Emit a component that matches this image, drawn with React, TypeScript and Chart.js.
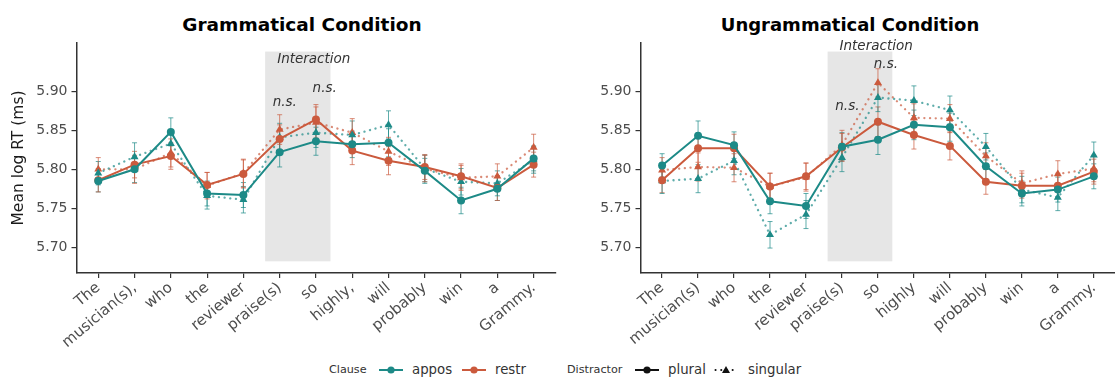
import { useEffect, useRef } from "react";
import { Chart, registerables } from "chart.js";

Chart.register(...registerables);

const FONT = "'DejaVu Sans', Verdana, sans-serif";
const TEAL = "#1d8a87";
const RED = "#cb5a3d";
const TEAL_DOT = "rgba(29,138,135,0.7)";
const RED_DOT = "rgba(203,90,61,0.7)";

// ---------- categories ----------
const gramWords = ["The", "musician(s),", "who", "the", "reviewer", "praise(s)", "so", "highly,", "will", "probably", "win", "a", "Grammy."];
const ungramWords = ["The", "musician(s)", "who", "the", "reviewer", "praise(s)", "so", "highly", "will", "probably", "win", "a", "Grammy."];
const yTickValues = [5.7, 5.75, 5.8, 5.85, 5.9];

// ---------- Grammatical condition (mean log RT) ----------
const gramApposPlural = [5.785, 5.800, 5.848, 5.769, 5.767, 5.822, 5.836, 5.832, 5.834, 5.798, 5.760, 5.775, 5.814];
const gramApposSingular = [5.795, 5.816, 5.833, 5.766, 5.761, 5.841, 5.847, 5.844, 5.857, 5.801, 5.784, 5.782, 5.812];
const gramRestrPlural = [5.786, 5.806, 5.817, 5.780, 5.794, 5.839, 5.864, 5.824, 5.811, 5.803, 5.791, 5.776, 5.806];
const gramRestrSingular = [5.800, 5.800, 5.821, 5.779, 5.795, 5.851, 5.860, 5.847, 5.823, 5.801, 5.789, 5.791, 5.828];

const gramApposPluralSE = [0.014, 0.017, 0.018, 0.016, 0.016, 0.019, 0.018, 0.017, 0.018, 0.016, 0.017, 0.015, 0.016];
const gramApposSingularSE = [0.015, 0.018, 0.017, 0.017, 0.017, 0.018, 0.019, 0.018, 0.018, 0.017, 0.017, 0.016, 0.017];
const gramRestrPluralSE = [0.015, 0.017, 0.017, 0.016, 0.018, 0.018, 0.019, 0.018, 0.018, 0.016, 0.016, 0.016, 0.016];
const gramRestrSingularSE = [0.015, 0.018, 0.018, 0.017, 0.018, 0.019, 0.020, 0.018, 0.018, 0.017, 0.016, 0.016, 0.017];

// ---------- Ungrammatical condition (mean log RT) ----------
const ungramApposPlural = [5.805, 5.843, 5.831, 5.759, 5.753, 5.829, 5.838, 5.857, 5.854, 5.804, 5.769, 5.774, 5.791];
const ungramApposSingular = [5.785, 5.788, 5.811, 5.716, 5.742, 5.815, 5.892, 5.888, 5.876, 5.829, 5.774, 5.764, 5.818];
const ungramRestrPlural = [5.786, 5.827, 5.827, 5.778, 5.791, 5.828, 5.861, 5.844, 5.830, 5.784, 5.779, 5.779, 5.797];
const ungramRestrSingular = [5.799, 5.803, 5.802, 5.778, 5.790, 5.831, 5.911, 5.866, 5.865, 5.817, 5.782, 5.794, 5.801];

const ungramApposPluralSE = [0.015, 0.019, 0.017, 0.016, 0.016, 0.018, 0.019, 0.019, 0.018, 0.017, 0.016, 0.016, 0.016];
const ungramApposSingularSE = [0.016, 0.018, 0.018, 0.017, 0.018, 0.018, 0.018, 0.019, 0.018, 0.017, 0.017, 0.017, 0.017];
const ungramRestrPluralSE = [0.016, 0.018, 0.018, 0.017, 0.017, 0.018, 0.019, 0.018, 0.018, 0.016, 0.016, 0.016, 0.016];
const ungramRestrSingularSE = [0.016, 0.018, 0.018, 0.017, 0.018, 0.019, 0.018, 0.018, 0.018, 0.017, 0.016, 0.017, 0.017];

// ---------- shaded "Interaction" region & annotations (data coords) ----------
const shadeX = [4.6, 6.4];
const shadeY = [5.682, 5.951];
const gramNotes = [
  { x: 5.94, y: 5.941, text: "Interaction" },
  { x: 5.14, y: 5.886, text: "n.s." },
  { x: 6.24, y: 5.904, text: "n.s." },
];
const ungramNotes = [
  { x: 5.95, y: 5.957, text: "Interaction" },
  { x: 5.15, y: 5.881, text: "n.s." },
  { x: 6.22, y: 5.935, text: "n.s." },
];

const Y_MIN = 5.667;
const Y_MAX = 5.962;
const CANVAS_W = 560;
const CANVAS_H = 350;
const AREA_TOP = 43;
const AREA_BOTTOM = 273;

const shadePlugin = {
  id: "shade",
  beforeDatasetsDraw(chart: any) {
    const { ctx, scales } = chart;
    const x0 = scales.x.getPixelForValue(shadeX[0]);
    const x1 = scales.x.getPixelForValue(shadeX[1]);
    const y0 = scales.y.getPixelForValue(shadeY[1]);
    const y1 = scales.y.getPixelForValue(shadeY[0]);
    ctx.save();
    ctx.fillStyle = "#e6e6e6";
    ctx.fillRect(x0, y0, x1 - x0, y1 - y0);
    ctx.restore();
  },
};

const errorPlugin = {
  id: "errorBars",
  beforeDatasetsDraw(chart: any) {
    const { ctx, scales } = chart;
    chart.data.datasets.forEach((ds: any) => {
      ctx.save();
      ctx.strokeStyle = ds.errColor;
      ctx.lineWidth = 1;
      ds.data.forEach((pt: any, i: number) => {
        const e = ds.errors[i];
        const px = scales.x.getPixelForValue(pt.x);
        const top = scales.y.getPixelForValue(pt.y + e);
        const bot = scales.y.getPixelForValue(pt.y - e);
        ctx.beginPath();
        ctx.moveTo(px, top);
        ctx.lineTo(px, bot);
        ctx.moveTo(px - 2.5, top);
        ctx.lineTo(px + 2.5, top);
        ctx.moveTo(px - 2.5, bot);
        ctx.lineTo(px + 2.5, bot);
        ctx.stroke();
      });
      ctx.restore();
    });
  },
};

const notePlugin = {
  id: "notes",
  afterDatasetsDraw(chart: any) {
    const { ctx, scales } = chart;
    const notes = chart.options.plugins.notes.items;
    ctx.save();
    ctx.fillStyle = "#333333";
    ctx.font = `italic 13.5px ${FONT}`;
    ctx.textAlign = "center";
    ctx.textBaseline = "middle";
    notes.forEach((n: any) => {
      ctx.fillText(n.text, scales.x.getPixelForValue(n.x), scales.y.getPixelForValue(n.y));
    });
    ctx.restore();
  },
};

function makeSeries(values: number[], errors: number[], color: string, dotColor: string, singular: boolean) {
  return {
    data: values.map((v, i) => ({ x: i, y: v })),
    errors,
    errColor: dotColor,
    borderColor: singular ? dotColor : color,
    backgroundColor: color,
    pointBackgroundColor: color,
    pointBorderColor: color,
    pointBorderWidth: 0,
    borderWidth: singular ? 2.3 : 2,
    borderDash: singular ? [0.1, 5.6] : [],
    borderCapStyle: singular ? "round" : "butt",
    pointStyle: singular ? "triangle" : "circle",
    pointRadius: singular ? 4.6 : 4,
    tension: 0,
    fill: false,
  };
}

function Panel(props: any) {
  const { labels, datasets, notes, yTitle, axisWidth, padRight, left } = props;
  const ref = useRef<HTMLCanvasElement>(null);
  useEffect(() => {
    const chart = new Chart(ref.current as HTMLCanvasElement, {
      type: "line",
      data: { datasets },
      plugins: [shadePlugin, errorPlugin, notePlugin],
      options: {
        animation: false,
        responsive: false,
        layout: { padding: { top: AREA_TOP, right: padRight, left: 0, bottom: 0 } },
        plugins: {
          legend: { display: false },
          tooltip: { enabled: false },
          notes: { items: notes },
        } as any,
        scales: {
          x: {
            type: "linear",
            min: -0.6,
            max: 12.6,
            afterBuildTicks: (axis: any) => {
              axis.ticks = labels.map((_: string, i: number) => ({ value: i }));
            },
            afterFit: (axis: any) => {
              axis.height = CANVAS_H - AREA_BOTTOM;
            },
            ticks: {
              autoSkip: false,
              minRotation: 40,
              maxRotation: 40,
              padding: 1,
              color: "#4d4d4d",
              font: { family: FONT, size: 15 },
              callback: (v: any) => labels[v],
            },
            grid: { drawOnChartArea: false, drawTicks: true, tickLength: 5, color: "#333333", lineWidth: 1.2 },
            border: { display: true, color: "#333333", width: 1.5 },
          },
          y: {
            type: "linear",
            min: Y_MIN,
            max: Y_MAX,
            afterBuildTicks: (axis: any) => {
              axis.ticks = yTickValues.map((v) => ({ value: v }));
            },
            afterFit: (axis: any) => {
              axis.width = axisWidth;
            },
            ticks: {
              padding: 4,
              color: "#4d4d4d",
              font: { family: FONT, size: 14 },
              callback: (v: any) => Number(v).toFixed(2),
            },
            title: {
              display: yTitle,
              text: "Mean log RT (ms)",
              color: "#1a1a1a",
              font: { family: FONT, size: 15.5 },
              padding: { top: 9.5, bottom: 0 },
            },
            grid: { drawOnChartArea: false, drawTicks: true, tickLength: 5, color: "#333333", lineWidth: 1.2 },
            border: { display: true, color: "#333333", width: 1.5 },
          },
        },
      } as any,
    });
    return () => chart.destroy();
  }, []);
  return (
    <canvas
      ref={ref}
      width={CANVAS_W}
      height={CANVAS_H}
      style={{ position: "absolute", left, top: 0, width: CANVAS_W, height: CANVAS_H, display: "block" }}
    />
  );
}

function Key(props: any) {
  const { color, dotted, left } = props;
  return (
    <svg width={24} height={12} style={{ position: "absolute", left, top: 364 }}>
      {dotted ? (
        <>
          <line x1={1.5} y1={6} x2={22.5} y2={6} stroke={color} strokeWidth={2} strokeDasharray="0.1 5.6" strokeLinecap="round" />
          <polygon points="12,2 16,9 8,9" fill={color} />
        </>
      ) : (
        <>
          <line x1={0} y1={6} x2={24} y2={6} stroke={color} strokeWidth={2} />
          <circle cx={12} cy={6} r={3.6} fill={color} />
        </>
      )}
    </svg>
  );
}

const legendText = (text: string, left: number, size: number) => (
  <div
    style={{
      position: "absolute",
      left,
      top: 360,
      height: 20,
      lineHeight: "20px",
      fontFamily: FONT,
      fontSize: size,
      color: "#333333",
      whiteSpace: "nowrap",
    }}
  >
    {text}
  </div>
);

export default function App() {
  const gramSets = [
    makeSeries(gramApposPlural, gramApposPluralSE, TEAL, TEAL_DOT, false),
    makeSeries(gramRestrPlural, gramRestrPluralSE, RED, RED_DOT, false),
    makeSeries(gramApposSingular, gramApposSingularSE, TEAL, TEAL_DOT, true),
    makeSeries(gramRestrSingular, gramRestrSingularSE, RED, RED_DOT, true),
  ];
  const ungramSets = [
    makeSeries(ungramApposPlural, ungramApposPluralSE, TEAL, TEAL_DOT, false),
    makeSeries(ungramRestrPlural, ungramRestrPluralSE, RED, RED_DOT, false),
    makeSeries(ungramApposSingular, ungramApposSingularSE, TEAL, TEAL_DOT, true),
    makeSeries(ungramRestrSingular, ungramRestrSingularSE, RED, RED_DOT, true),
  ];
  const titleStyle: any = {
    position: "absolute",
    top: 15,
    width: 400,
    textAlign: "center",
    fontFamily: FONT,
    fontWeight: "bold",
    fontSize: 18.5,
    lineHeight: "20px",
    color: "#000000",
    whiteSpace: "nowrap",
  };
  return (
    <div style={{ position: "absolute", left: 0, top: 0, width: 1115, height: 381, overflow: "hidden", background: "#ffffff" }}>
      <div style={{ ...titleStyle, left: 302 - 200 }}>Grammatical Condition</div>
      <div style={{ ...titleStyle, left: 850 - 200, fontSize: 18 }}>Ungrammatical Condition</div>
      <Panel labels={gramWords} datasets={gramSets} notes={gramNotes} yTitle={true} axisWidth={76.5} padRight={4.5} left={0} />
      <Panel labels={ungramWords} datasets={ungramSets} notes={ungramNotes} yTitle={false} axisWidth={80.5} padRight={1} left={560} />
      {legendText("Clause", 329, 11.2)}
      <Key color={TEAL} left={379} />
      {legendText("appos", 412, 13.3)}
      <Key color={RED} left={462} />
      {legendText("restr", 495, 13.3)}
      {legendText("Distractor", 567, 11.2)}
      <Key color="#111111" left={635} />
      {legendText("plural", 668, 13.3)}
      <Key color="#111111" dotted left={714} />
      {legendText("singular", 748, 13.3)}
    </div>
  );
}
